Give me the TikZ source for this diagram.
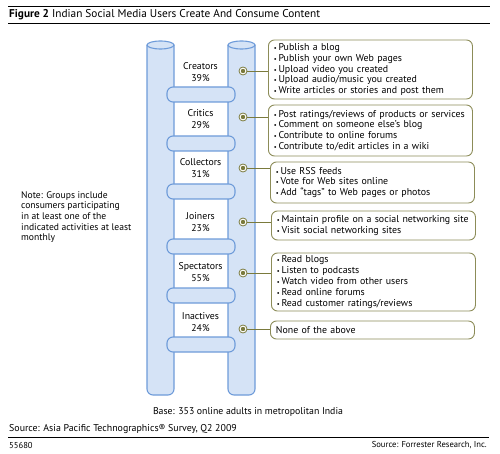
\documentclass[tikz,border=0pt]{standalone}
\usepackage{fontspec}
\setmainfont{PT Sans}
\usetikzlibrary{positioning}
\definecolor{railfill}{HTML}{D5E3F6}
\definecolor{railline}{HTML}{6E9BD9}
\definecolor{dotline}{HTML}{7A7A3C}
\definecolor{boxline}{HTML}{8C8C58}
\tikzset{
	rail/.style={draw=railline, fill=railfill, line width=1.1pt},
	rung/.style={draw=railline, fill=railfill, line width=1.1pt, rounded corners=6pt},
	grouplabel/.style={align=center, font=\fontsize{9.8}{12}\selectfont, inner sep=1pt},
	actbox/.style={draw=boxline, fill=white, line width=0.9pt, rounded corners=6pt,
		anchor=west, align=left, text width=193pt, inner xsep=5.5pt, inner ysep=1pt,
		font=\fontsize{9.9}{10.8}\selectfont},
	actdot/.style={circle, draw=dotline, fill=white, line width=0.8pt, minimum size=8pt, inner sep=0pt,
		path picture={\fill[dotline] (path picture bounding box.center) circle (2.2pt);}},
	link/.style={draw=dotline, line width=0.8pt},
	smalltext/.style={font=\fontsize{8.6}{9}\selectfont, inner sep=0pt}
}
\newcommand{\itm}{{\fontsize{6.5}{6}\selectfont\textbullet}\,}

\begin{document}
\begin{tikzpicture}[x=1pt, y=-1pt]
	\useasboundingbox (0,0) rectangle (500,454);
	% header
	\draw[line width=0.8pt] (8,6) -- (490,6);
	\node[anchor=west, inner sep=0pt, font=\fontsize{11.3}{12}\selectfont] (title) at (9,15)
		{\textbf{Figure 2} Indian Social Media Users Create And Consume Content};
	\draw[line width=0.8pt] (8,23) -- (490,23);

	% ladder rails
	\draw[rail, rounded corners=6pt] (147,45) -- (147,395) -- (174,395) -- (174,45);
	\draw[rail] (160.5,45) ellipse (13.5 and 4);
	\draw[rail, rounded corners=6pt] (228,45) -- (228,395) -- (255,395) -- (255,45);
	\draw[rail] (241.5,45) ellipse (13.5 and 4);
	\foreach \y in {87,136,184,239,288,337}
		\draw[rung] (167,\y) rectangle (235,\y+15);

	% groups and dots
	\foreach \i/\name/\pct/\ly/\dy in {1/Creators/39/72/71, 2/Critics/29/119/117,
		3/Collectors/31/168/168, 4/Joiners/23/222/222, 5/Spectators/55/272/273, 6/Inactives/24/322/329}{
		\node[grouplabel] (grp\i) at (200.5,\ly) {\name\\\pct\%};
		\node[actdot] (dot\i) at (243,\dy) {};
	}

	% activity boxes
	\node[actbox, minimum height=59pt] (acts1) at (268,69.5)
		{\itm Publish a blog\\\itm Publish your own Web pages\\\itm Upload video you created\\
		 \itm Upload audio/music you created\\\itm Write articles or stories and post them};
	\node[actbox, minimum height=51pt] (acts2) at (268,130.5)
		{\itm Post ratings/reviews of products or services\\\itm Comment on someone else’s blog\\
		 \itm Contribute to online forums\\\itm Contribute to/edit articles in a wiki};
	\node[actbox, minimum height=41pt] (acts3) at (270,182.5)
		{\itm Use RSS feeds\\\itm Vote for Web sites online\\\itm Add “tags” to Web pages or photos};
	\node[actbox, minimum height=29pt] (acts4) at (271,225.5)
		{\itm Maintain profile on a social networking site\\\itm Visit social networking sites};
	\node[actbox, minimum height=58pt] (acts5) at (271,282)
		{\itm Read blogs\\\itm Listen to podcasts\\\itm Watch video from other users\\
		 \itm Read online forums\\\itm Read customer ratings/reviews};
	\node[actbox, minimum height=18pt] (acts6) at (270,330) {None of the above};
	\foreach \i in {1,...,6}
		\draw[link] (dot\i) -- (dot\i -| acts\i.west);

	% note
	\node[anchor=west, align=left, inner sep=0pt, font=\fontsize{9.6}{10.6}\selectfont] (note) at (21,217)
		{Note: Groups include\\consumers participating\\in at least one of the\\indicated activities at least\\monthly};

	% footer
	\node[inner sep=0pt, font=\fontsize{9.8}{11}\selectfont] (base) at (248,412)
		{Base: 353 online adults in metropolitan India};
	\node[anchor=west, inner sep=0pt, font=\fontsize{9.9}{11}\selectfont] (survey) at (9,429)
		{Source: Asia Pacific Technographics® Survey, Q2 2009};
	\draw[line width=0.8pt] (8,437) -- (489,437);
	\node[smalltext, anchor=west] (figid) at (9,445) {55680};
	\node[smalltext, anchor=east] (credit) at (487,445) {Source: Forrester Research, Inc.};
\end{tikzpicture}
\end{document}
